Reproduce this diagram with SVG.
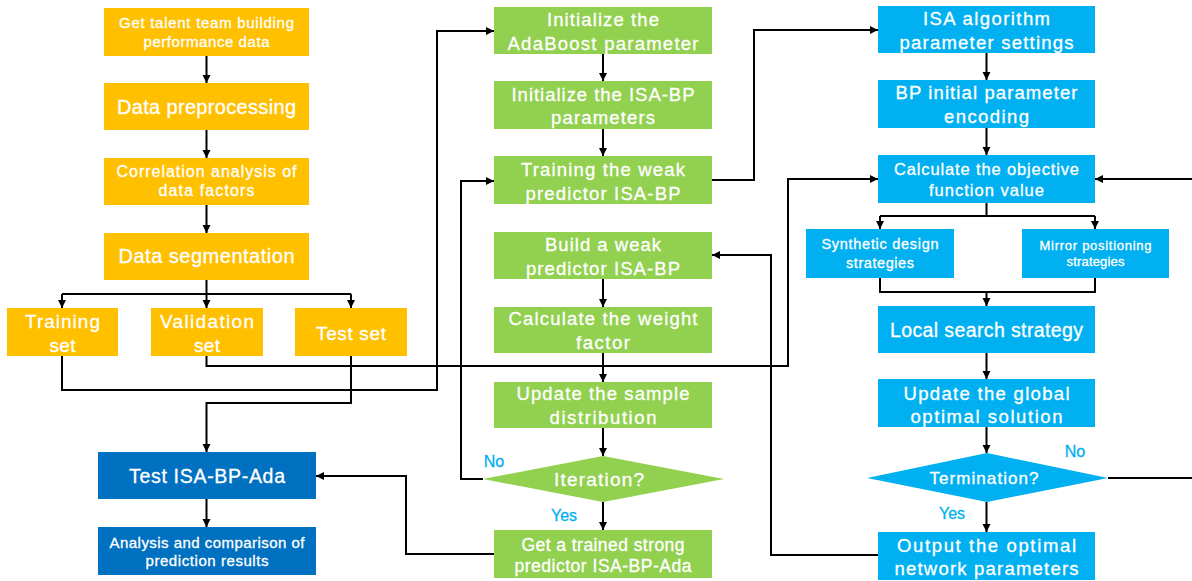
<svg xmlns="http://www.w3.org/2000/svg" width="1192" height="581" viewBox="0 0 1192 581">
<style>
.o{fill:#FFC000}
.g{fill:#92D050}
.b{fill:#00B0F0}
.d{fill:#0070C0}
text{font-family:"Liberation Sans",Arial,sans-serif;fill:#fff;stroke:#fff;stroke-width:0.3;text-anchor:middle}
.l{fill:#00B0F0;stroke:#00B0F0;font-size:16px}
.c path{fill:none;stroke:#000;stroke-width:2}
</style>
<defs>
<marker id="a" markerUnits="userSpaceOnUse" markerWidth="9" markerHeight="9" refX="8" refY="4" orient="auto">
<path d="M0,0 L8,4 L0,8 z" fill="#000"/>
</marker>
</defs>
<rect width="1192" height="581" fill="#fff"/>
<g class="c">
<path d="M206.5,56 V83" marker-end="url(#a)"/>
<path d="M206.5,130 V158" marker-end="url(#a)"/>
<path d="M206.5,205 V233" marker-end="url(#a)"/>
<path d="M206.5,280 V308" marker-end="url(#a)"/>
<path d="M62,294 H351"/>
<path d="M62,294 V308" marker-end="url(#a)"/>
<path d="M351,294 V308" marker-end="url(#a)"/>
<path d="M62,356 V390 H437 V31 H494" marker-end="url(#a)"/>
<path d="M206.5,356 V366 H788 V179 H878" marker-end="url(#a)"/>
<path d="M351,356 V403 H206.5 V452" marker-end="url(#a)"/>
<path d="M206.5,499 V527" marker-end="url(#a)"/>
<path d="M603,54 V81" marker-end="url(#a)"/>
<path d="M603,129 V156" marker-end="url(#a)"/>
<path d="M603,279 V307" marker-end="url(#a)"/>
<path d="M603,353 V382" marker-end="url(#a)"/>
<path d="M603,428 V456" marker-end="url(#a)"/>
<path d="M603,502 V530" marker-end="url(#a)"/>
<path d="M483,479 H461 V181 H494" marker-end="url(#a)"/>
<path d="M712,180 H754 V30 H878" marker-end="url(#a)"/>
<path d="M494,554 H406 V476 H316" marker-end="url(#a)"/>
<path d="M986.5,53 V80" marker-end="url(#a)"/>
<path d="M986.5,128 V155" marker-end="url(#a)"/>
<path d="M986.5,203 V216"/>
<path d="M880,216 H1095"/>
<path d="M880,216 V229" marker-end="url(#a)"/>
<path d="M1095,216 V229" marker-end="url(#a)"/>
<path d="M880,278 V292 H1095 V278"/>
<path d="M986.5,292 V306" marker-end="url(#a)"/>
<path d="M986.5,353 V379" marker-end="url(#a)"/>
<path d="M986.5,427 V453" marker-end="url(#a)"/>
<path d="M986.5,502 V532" marker-end="url(#a)"/>
<path d="M878,555 H771 V255 H712" marker-end="url(#a)"/>
<path d="M1108,478 H1192"/>
<path d="M1192,179 H1095" marker-end="url(#a)"/>
</g>
<g id="n1"><rect class="o" x="104" y="8" width="205" height="48"/><text x="206.5" y="28" font-size="15" textLength="175" lengthAdjust="spacing">Get talent team building</text><text x="206.5" y="47" font-size="15" textLength="126" lengthAdjust="spacing">performance data</text></g>
<g id="n2"><rect class="o" x="104" y="83" width="205" height="47"/><text x="206.5" y="114" font-size="20" textLength="179" lengthAdjust="spacing">Data preprocessing</text></g>
<g id="n3"><rect class="o" x="104" y="158" width="205" height="47"/><text x="206.5" y="177" font-size="16" textLength="180" lengthAdjust="spacing">Correlation analysis of</text><text x="206.5" y="196" font-size="16" textLength="96" lengthAdjust="spacing">data factors</text></g>
<g id="n4"><rect class="o" x="104" y="233" width="205" height="47"/><text x="206.5" y="263" font-size="20" textLength="176" lengthAdjust="spacing">Data segmentation</text></g>
<g id="n5"><rect class="o" x="7" y="308" width="111" height="48"/><text x="62.5" y="328" font-size="19" textLength="75" lengthAdjust="spacing">Training</text><text x="62.5" y="352" font-size="19" textLength="26" lengthAdjust="spacing">set</text></g>
<g id="n6"><rect class="o" x="151" y="308" width="112" height="48"/><text x="207" y="328" font-size="19" textLength="94" lengthAdjust="spacing">Validation</text><text x="207" y="352" font-size="19" textLength="26" lengthAdjust="spacing">set</text></g>
<g id="n7"><rect class="o" x="295" y="308" width="112" height="48"/><text x="351" y="340" font-size="19" textLength="70" lengthAdjust="spacing">Test set</text></g>
<g id="n8"><rect class="d" x="98" y="452" width="218" height="47"/><text x="207" y="483" font-size="19.5" textLength="156" lengthAdjust="spacing">Test ISA-BP-Ada</text></g>
<g id="n9"><rect class="d" x="98" y="527" width="218" height="48"/><text x="207" y="548" font-size="15" textLength="195" lengthAdjust="spacing">Analysis and comparison of</text><text x="207" y="566" font-size="15" textLength="123" lengthAdjust="spacing">prediction results</text></g>
<g id="m1"><rect class="g" x="494" y="7" width="218" height="47"/><text x="603" y="26" font-size="18.5" textLength="112" lengthAdjust="spacing">Initialize the</text><text x="603" y="50" font-size="18.5" textLength="191" lengthAdjust="spacing">AdaBoost parameter</text></g>
<g id="m2"><rect class="g" x="494" y="81" width="218" height="48"/><text x="603" y="101" font-size="18.5" textLength="183" lengthAdjust="spacing">Initialize the ISA-BP</text><text x="603" y="124" font-size="18.5" textLength="104" lengthAdjust="spacing">parameters</text></g>
<g id="m3"><rect class="g" x="494" y="156" width="218" height="48"/><text x="603" y="176" font-size="18.5" textLength="164" lengthAdjust="spacing">Training the weak</text><text x="603" y="200" font-size="18.5" textLength="155" lengthAdjust="spacing">predictor ISA-BP</text></g>
<g id="m4"><rect class="g" x="494" y="232" width="218" height="47"/><text x="603" y="251" font-size="18.5" textLength="116" lengthAdjust="spacing">Build a weak</text><text x="603" y="275" font-size="18.5" textLength="154" lengthAdjust="spacing">predictor ISA-BP</text></g>
<g id="m5"><rect class="g" x="494" y="307" width="218" height="46"/><text x="603" y="325" font-size="18.5" textLength="189" lengthAdjust="spacing">Calculate the weight</text><text x="603" y="349" font-size="18.5" textLength="54" lengthAdjust="spacing">factor</text></g>
<g id="m6"><rect class="g" x="494" y="382" width="218" height="46"/><text x="603" y="400" font-size="18.5" textLength="173" lengthAdjust="spacing">Update the sample</text><text x="603" y="424" font-size="18.5" textLength="107" lengthAdjust="spacing">distribution</text></g>
<g id="m7"><polygon class="g" points="603,456 724,479 603,502 483,479"/><text x="599" y="486" font-size="19" textLength="90" lengthAdjust="spacing">Iteration?</text></g>
<g id="m8"><rect class="g" x="494" y="530" width="218" height="48"/><text x="603" y="551" font-size="17.5" textLength="163" lengthAdjust="spacing">Get a trained strong</text><text x="603" y="572" font-size="17.5" textLength="177" lengthAdjust="spacing">predictor ISA-BP-Ada</text></g>
<g id="r1"><rect class="b" x="878" y="6" width="217" height="47"/><text x="986.5" y="25" font-size="18.5" textLength="127" lengthAdjust="spacing">ISA algorithm</text><text x="986.5" y="49" font-size="18.5" textLength="174" lengthAdjust="spacing">parameter settings</text></g>
<g id="r2"><rect class="b" x="878" y="80" width="217" height="48"/><text x="986.5" y="99" font-size="18.5" textLength="182" lengthAdjust="spacing">BP initial parameter</text><text x="986.5" y="123" font-size="18.5" textLength="85" lengthAdjust="spacing">encoding</text></g>
<g id="r3"><rect class="b" x="878" y="155" width="217" height="48"/><text x="986.5" y="175" font-size="16.5" textLength="185" lengthAdjust="spacing">Calculate the objective</text><text x="986.5" y="196" font-size="16.5" textLength="115" lengthAdjust="spacing">function value</text></g>
<g id="r4"><rect class="b" x="806" y="229" width="148" height="49"/><text x="880" y="249" font-size="14.5" textLength="117" lengthAdjust="spacing">Synthetic design</text><text x="880" y="268" font-size="14.5" textLength="68" lengthAdjust="spacing">strategies</text></g>
<g id="r5"><rect class="b" x="1022" y="229" width="147" height="49"/><text x="1095.5" y="250" font-size="13" textLength="112" lengthAdjust="spacing">Mirror positioning</text><text x="1095.5" y="266" font-size="13" textLength="58" lengthAdjust="spacing">strategies</text></g>
<g id="r6"><rect class="b" x="878" y="306" width="217" height="47"/><text x="986.5" y="337" font-size="19.5" textLength="193" lengthAdjust="spacing">Local search strategy</text></g>
<g id="r7"><rect class="b" x="878" y="379" width="217" height="48"/><text x="986.5" y="400" font-size="18.5" textLength="166" lengthAdjust="spacing">Update the global</text><text x="986.5" y="423" font-size="18.5" textLength="152" lengthAdjust="spacing">optimal solution</text></g>
<g id="r8"><polygon class="b" points="987,453 1108,478 987,502 867,478"/><text x="984" y="484" font-size="17" textLength="109" lengthAdjust="spacing">Termination?</text></g>
<g id="r9"><rect class="b" x="878" y="532" width="217" height="48"/><text x="986.5" y="552" font-size="18.5" textLength="179" lengthAdjust="spacing">Output the optimal</text><text x="986.5" y="575" font-size="18.5" textLength="184" lengthAdjust="spacing">network parameters</text></g>
<g id="labels">
<text class="l" x="494" y="467">No</text>
<text class="l" x="564" y="521">Yes</text>
<text class="l" x="1075" y="457">No</text>
<text class="l" x="952" y="519">Yes</text>
</g>
</svg>
